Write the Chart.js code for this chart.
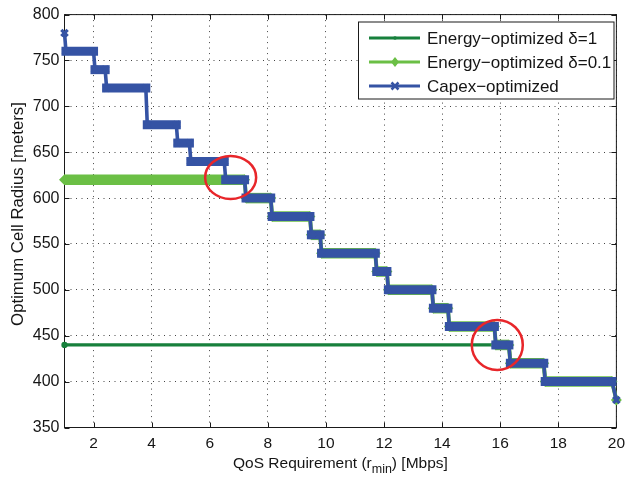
<!DOCTYPE html>
<html>
<head>
<title>Optimum Cell Radius vs QoS Requirement</title>
<script src="https://cdn.jsdelivr.net/npm/chart.js"></script>
<style>
  html, body { margin: 0; padding: 0; background: #fff; }
</style>
</head>
<body>
<canvas id="radiusChart" width="632" height="477"></canvas>
<script>
// ---- data ----
const xTicks = [2, 4, 6, 8, 10, 12, 14, 16, 18, 20];

// Capex-optimized: each step = [start, end] in Mbps at one radius
const capexStart  = [1, 1.05, 2.05, 2.45, 3.85, 4.9, 5.35, 6.55, 7.25, 8.15, 9.5, 9.85, 11.75, 12.15, 13.7, 14.25, 15.85, 16.35, 17.55, 20];
const capexEnd    = [1, 2.0, 2.4, 3.8, 4.85, 5.3, 6.5, 7.2, 8.1, 9.45, 9.8, 11.7, 12.1, 13.65, 14.2, 15.8, 16.3, 17.5, 19.85, 20];
const capexRadius = [780, 760, 740, 720, 680, 660, 640, 620, 600, 580, 560, 540, 520, 500, 480, 460, 440, 420, 400, 380];

// Energy-optimized, delta = 0.1
const e01Start  = [1, 7.25, 8.15, 9.5, 9.85, 11.75, 12.15, 13.7, 14.25, 15.85, 16.35, 17.55, 20];
const e01End    = [7.2, 8.1, 9.45, 9.8, 11.7, 12.1, 13.65, 14.2, 15.8, 16.3, 17.5, 19.85, 20];
const e01Radius = [620, 600, 580, 560, 540, 520, 500, 480, 460, 440, 420, 400, 380];

// Energy-optimized, delta = 1
const e1Start  = [1, 16.35, 17.55, 20];
const e1End    = [16.3, 17.5, 19.85, 20];
const e1Radius = [440, 420, 400, 380];

// red highlight circles (data coords of centre)
const markX = [6.72, 15.9];
const markY = [622.5, 440];

const FONT = "'Liberation Sans', Arial, Helvetica, sans-serif";
const TEXT = '#151515';
const DARK_GREEN = '#17803c';
const LIGHT_GREEN = '#6bbf45';
const BLUE = '#3553a4';
const RED = '#e8262a';

// turn step lists into xy points for the line
function stepPoints(starts, ends, vals) {
    const pts = [];
    for (let i = 0; i < vals.length; i++) {
        pts.push({x: starts[i], y: vals[i]});
        if (ends[i] !== starts[i]) pts.push({x: ends[i], y: vals[i]});
    }
    return pts;
}

// thick band on the flat parts, thin on the drops
function flatWidth(thick, thin) {
    return ctx => ctx.p0.parsed.y === ctx.p1.parsed.y ? thick : thin;
}

const decorPlugin = {
    id: 'decor',
    beforeDatasetsDraw(chart) {
        const {ctx, chartArea: a, scales: {x, y}} = chart;
        ctx.save();
        ctx.strokeStyle = '#1a1a1a';
        ctx.lineWidth = 1;
        ctx.strokeRect(a.left, a.top, a.right - a.left, a.bottom - a.top);
        ctx.beginPath();
        xTicks.forEach(v => {
            const px = Math.round(x.getPixelForValue(v)) + 0.5;
            ctx.moveTo(px, a.bottom); ctx.lineTo(px, a.bottom - 5);
            ctx.moveTo(px, a.top); ctx.lineTo(px, a.top + 5);
        });
        y.ticks.forEach(t => {
            const py = Math.round(y.getPixelForValue(t.value)) + 0.5;
            ctx.moveTo(a.left, py); ctx.lineTo(a.left + 5, py);
            ctx.moveTo(a.right, py); ctx.lineTo(a.right - 5, py);
        });
        ctx.stroke();
        ctx.restore();
    },
    afterDraw(chart) {
        const {ctx, chartArea: a, scales: {x, y}} = chart;
        ctx.save();

        // red circles
        ctx.strokeStyle = RED;
        ctx.lineWidth = 2.5;
        const rx = [25.5, 25.5], ry = [21.5, 25];
        for (let i = 0; i < markX.length; i++) {
            ctx.beginPath();
            ctx.ellipse(x.getPixelForValue(markX[i]), y.getPixelForValue(markY[i]), rx[i], ry[i], 0, 0, Math.PI * 2);
            ctx.stroke();
        }

        // y axis title
        ctx.save();
        ctx.translate(18, 214);
        ctx.rotate(-Math.PI / 2);
        ctx.fillStyle = TEXT;
        ctx.textAlign = 'center';
        ctx.textBaseline = 'middle';
        ctx.font = '16.8px ' + FONT;
        ctx.fillText('Optimum Cell Radius [meters]', 0, 0);
        ctx.restore();

        // x axis title with subscript
        const t1 = 'QoS Requirement (r', sub = 'min', t2 = ') [Mbps]';
        ctx.fillStyle = TEXT;
        ctx.textBaseline = 'alphabetic';
        ctx.textAlign = 'left';
        ctx.font = '15.5px ' + FONT;
        const w1 = ctx.measureText(t1).width, w2 = ctx.measureText(t2).width;
        ctx.font = '12.5px ' + FONT;
        const ws = ctx.measureText(sub).width;
        let tx = (a.left + a.right) / 2 - (w1 + ws + w2) / 2;
        const base = 467.5;
        ctx.font = '15.5px ' + FONT;
        ctx.fillText(t1, tx, base);
        ctx.font = '12.5px ' + FONT;
        ctx.fillText(sub, tx + w1, base + 5);
        ctx.font = '15.5px ' + FONT;
        ctx.fillText(t2, tx + w1 + ws, base);

        // legend box
        const bx = 358.5, by = 22, bw = 255.5, bh = 77;
        ctx.fillStyle = '#fff';
        ctx.fillRect(bx, by, bw, bh);
        ctx.strokeStyle = '#1a1a1a';
        ctx.lineWidth = 1;
        ctx.strokeRect(bx, by, bw, bh);
        const rows = [38, 62, 86];
        chart.data.datasets.forEach((ds, i) => {
            const ly = rows[i];
            ctx.strokeStyle = ds.borderColor;
            ctx.lineWidth = 3;
            ctx.beginPath();
            ctx.moveTo(369, ly); ctx.lineTo(420, ly);
            ctx.stroke();
            const mx = 395;
            ctx.fillStyle = ds.borderColor;
            if (ds.legendMarker === 'dot') {
                ctx.beginPath(); ctx.arc(mx, ly, 1.8, 0, Math.PI * 2); ctx.fill();
            } else if (ds.legendMarker === 'diamond') {
                ctx.beginPath();
                ctx.moveTo(mx, ly - 5); ctx.lineTo(mx + 4, ly); ctx.lineTo(mx, ly + 5); ctx.lineTo(mx - 4, ly);
                ctx.closePath(); ctx.fill();
            } else {
                ctx.lineWidth = 2.5;
                ctx.beginPath();
                ctx.moveTo(mx - 3.5, ly - 3.5); ctx.lineTo(mx + 3.5, ly + 3.5);
                ctx.moveTo(mx + 3.5, ly - 3.5); ctx.lineTo(mx - 3.5, ly + 3.5);
                ctx.stroke();
            }
            ctx.fillStyle = TEXT;
            ctx.font = '17px ' + FONT;
            ctx.fillText(ds.label, 427, ly + 5.5);
        });
        ctx.restore();
    }
};

const ctx = document.getElementById('radiusChart').getContext('2d');
new Chart(ctx, {
    type: 'line',
    data: {
        datasets: [
            {
                label: 'Energy\u2212optimized \u03b4=1',
                data: stepPoints(e1Start, e1End, e1Radius),
                borderColor: DARK_GREEN,
                backgroundColor: DARK_GREEN,
                borderWidth: 3.3,
                pointRadius: 1.5,
                pointStyle: 'circle',
                legendMarker: 'dot',
                order: 3,
                clip: false
            },
            {
                label: 'Energy\u2212optimized \u03b4=0.1',
                data: stepPoints(e01Start, e01End, e01Radius),
                borderColor: LIGHT_GREEN,
                backgroundColor: LIGHT_GREEN,
                borderWidth: 3,
                segment: { borderWidth: flatWidth(10.5, 4) },
                pointRadius: 5.5,
                pointStyle: 'rectRot',
                pointBorderWidth: 0,
                legendMarker: 'diamond',
                order: 2,
                clip: false
            },
            {
                label: 'Capex\u2212optimized',
                data: stepPoints(capexStart, capexEnd, capexRadius),
                borderColor: BLUE,
                backgroundColor: BLUE,
                borderWidth: 3,
                segment: { borderWidth: flatWidth(9, 3.6) },
                borderCapStyle: 'square',
                pointRadius: 4.5,
                pointStyle: 'crossRot',
                pointBorderWidth: 3.2,
                pointBorderColor: BLUE,
                legendMarker: 'cross',
                order: 1,
                clip: false
            }
        ]
    },
    options: {
        responsive: false,
        animation: false,
        layout: { padding: { left: 0, right: 9.5, top: 12, bottom: 0 } },
        plugins: {
            legend: { display: false },
            tooltip: { enabled: false }
        },
        scales: {
            x: {
                type: 'linear',
                min: 1,
                max: 20,
                afterBuildTicks: s => { s.ticks = xTicks.map(v => ({value: v})); },
                afterFit: s => { s.height = 49.5; },
                grid: { color: '#444', lineWidth: 1, drawTicks: false },
                border: { display: false, dash: [1, 4.5] },
                ticks: {
                    color: TEXT,
                    font: { family: FONT, size: 15.5 },
                    padding: 7,
                    maxRotation: 0
                }
            },
            y: {
                min: 350,
                max: 800,
                afterFit: s => { s.width = 64.5; },
                grid: { color: '#444', lineWidth: 1, drawTicks: false },
                border: { display: false, dash: [1, 4.5] },
                ticks: {
                    stepSize: 50,
                    color: TEXT,
                    font: { family: FONT, size: 16 },
                    padding: 5
                }
            }
        }
    },
    plugins: [decorPlugin]
});
</script>
</body>
</html>
